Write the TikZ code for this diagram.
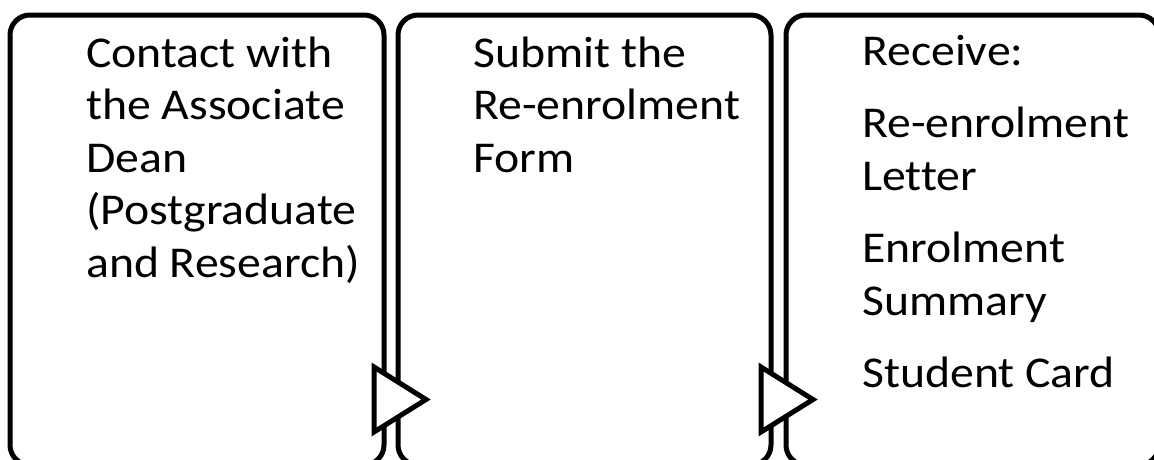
\documentclass[tikz,border=0pt]{standalone}
\usepackage{fontspec}
\setmainfont{Carlito}[FakeStretch=1.085,Ligatures=CommonOff,WordSpace={1,0,0}]
\usetikzlibrary{calc}
\newcommand\natspace{\spaceskip=0pt\xspaceskip=0pt\relax}
\begin{document}
\begin{tikzpicture}[x=1pt,y=-1pt,
  stepbox/.style={draw=black,line width=5pt,rounded corners=20pt,rectangle,
    minimum width=373pt,minimum height=450pt,inner sep=0pt,outer sep=0pt,anchor=north west},
  steptext/.style={anchor=base west,inner sep=0pt,text width=310pt,align=flush left,
    font=\fontsize{44pt}{52.5pt}\selectfont},
  chevron/.style={draw=black,fill=white,line width=5pt,line join=miter}]
\useasboundingbox (0,0) rectangle (1154,459);
\node[stepbox,minimum width=374pt] (b1) at (10,15) {};
\node[stepbox] (b2) at (398,15) {};
\node[stepbox] (b3) at (786,15) {};
\node[steptext] (t1) at (86,67) {\natspace Contact with\\the Associate\\Dean\\(Postgraduate\\and Research)};
\node[steptext] (t2) at (473,67) {\natspace Submit the\\Re-enrolment\\Form};
\node[steptext] (t3) at (862,65) {\natspace Receive:\\[20pt]Re-enrolment\\Letter\\[20pt]Enrolment\\Summary\\[20pt]Student Card};
\draw[chevron] ([shift={(-10,-98)}]b1.south east) -- ([shift={(-10,-33)}]b1.south east)
  -- ([shift={(42,-65.5)}]b1.south east) -- cycle;
\draw[chevron] ([shift={(-10,-98)}]b2.south east) -- ([shift={(-10,-33)}]b2.south east)
  -- ([shift={(42,-65.5)}]b2.south east) -- cycle;
\end{tikzpicture}
\end{document}
